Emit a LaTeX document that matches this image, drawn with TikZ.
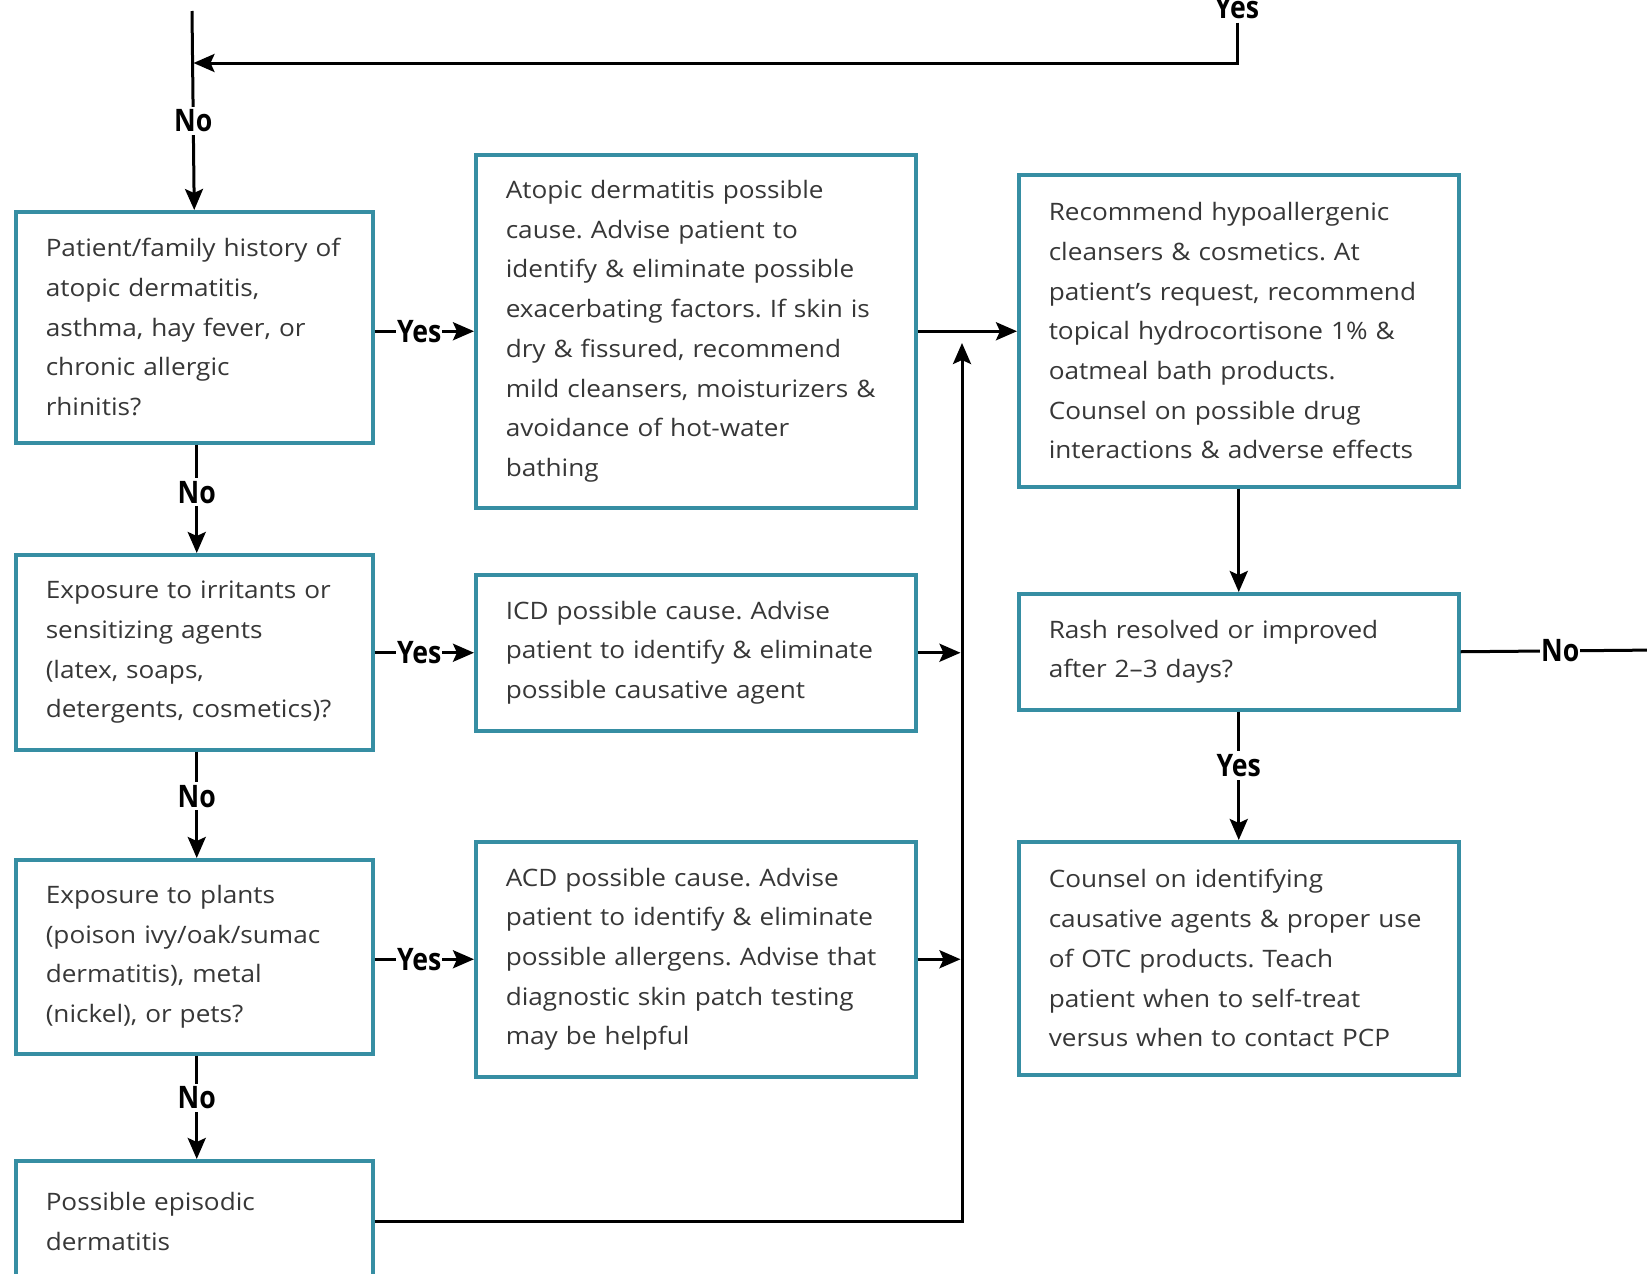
\documentclass[tikz,border=0pt]{standalone}
\usepackage{fontspec}
\setmainfont{Open Sans}[FakeStretch=1.09]
\newfontfamily\labfont[FakeStretch=0.86]{Open Sans}
\usetikzlibrary{arrows.meta}
\definecolor{boxline}{RGB}{54,142,163}
\definecolor{bodytext}{RGB}{55,55,55}
\begin{document}
\frenchspacing
\begin{tikzpicture}[x=1pt,y=-1pt,
  box/.style={draw=boxline, line width=3.5pt, fill=white, align=left, anchor=north west,
    inner xsep=30pt, inner ysep=4pt, text=bodytext, font=\fontsize{24}{39.7}\selectfont},
  wa/.style={box, text width=297pt},
  wb/.style={box, text width=380pt},
  lab/.style={font=\labfont\bfseries\fontsize{31}{31}\selectfont, fill=white, inner xsep=1pt, inner ysep=3pt, text=black},
  conn/.style={line width=3pt, draw=black},
  arr/.style={conn, -{Stealth[length=21pt,width=18pt,inset=4pt]}}]

\useasboundingbox (0,0) rectangle (1647,1274);
\clip (0,0) rectangle (1647,1274);

% column 1
\node[wa, minimum height=231pt] (hist) at (14,210)
  {Patient/family history of\\atopic dermatitis,\\asthma, hay fever, or\\chronic allergic\\rhinitis?};
\node[wa, minimum height=195pt] (irr) at (14,553)
  {Exposure to irritants or\\sensitizing agents\\(latex, soaps,\\detergents, cosmetics)?};
\node[wa, minimum height=194pt] (plant) at (14,858)
  {Exposure to plants\\(poison ivy/oak/sumac\\dermatitis), metal\\(nickel), or pets?};
\node[wa, minimum height=122pt] (epi) at (14,1159)
  {Possible episodic\\dermatitis};

% column 2
\node[wb, minimum height=353pt] (atop) at (474,153)
  {Atopic dermatitis possible\\cause. Advise patient to\\identify \& eliminate possible\\exacerbating factors. If skin is\\dry \& fissured, recommend\\mild cleansers, moisturizers \&\\avoidance of hot-water\\bathing};
\node[wb, minimum height=156pt] (icd) at (474,573)
  {ICD possible cause. Advise\\patient to identify \& eliminate\\possible causative agent};
\node[wb, minimum height=235pt] (acd) at (474,840)
  {ACD possible cause. Advise\\patient to identify \& eliminate\\possible allergens. Advise that\\diagnostic skin patch testing\\may be helpful};

% column 3
\node[wb, minimum height=312pt] (rec) at (1017,173)
  {Recommend hypoallergenic\\cleansers \& cosmetics. At\\patient’s request, recommend\\topical hydrocortisone 1\% \&\\oatmeal bath products.\\Counsel on possible drug\\interactions \& adverse effects};
\node[wb, minimum height=116pt] (rash) at (1017,592)
  {Rash resolved or improved\\after 2–3 days?};
\node[wb, minimum height=233pt] (couns) at (1017,840)
  {Counsel on identifying\\causative agents \& proper use\\of OTC products. Teach\\patient when to self-treat\\versus when to contact PCP};

% helper coordinates
\coordinate (topL) at (192,11);
\coordinate (leftjoin) at (193.5,63);
\coordinate (join) at (962,343);
\coordinate (joinL) at (960.5,343);
\coordinate (rightEnd) at (1660,650);
\node[lab, fill=none, anchor=base] (topyes) at (1237,19) {Yes};

% top loop
\draw[arr] (topyes.south) |- (leftjoin);
\draw[arr] (topL) -- node[lab, pos=0.553] {No} (hist.north);

% column 1 "No" chain
\draw[arr] ([xshift=2.5pt]hist.south) -- node[lab, pos=0.44] {No} ([xshift=2.5pt]irr.north);
\draw[arr] ([xshift=2.5pt]irr.south) -- node[lab, pos=0.42] {No} ([xshift=2.5pt]plant.north);
\draw[arr] ([xshift=2.5pt]plant.south) -- node[lab, pos=0.41] {No} ([xshift=2.5pt]epi.north);

% Yes arrows
\draw[arr] (atop.west -| hist.east) -- node[lab, pos=0.45] {Yes} (atop.west);
\draw[arr] (icd.west -| irr.east) -- node[lab, pos=0.45] {Yes} (icd.west);
\draw[arr] (acd.west -| plant.east) -- node[lab, pos=0.45] {Yes} (acd.west);

% collector
\draw[arr] (atop.east) -- (atop.east -| rec.west);
\draw[arr] (epi.east) -| (join);
\draw[arr] (icd.east) -- (icd.east -| joinL);
\draw[arr] (acd.east) -- (acd.east -| joinL);

% column 3
\draw[arr] (rec.south) -- (rash.north);
\draw[arr] (rash.south) -- node[lab, pos=0.42] {Yes} (couns.north);
\draw[conn] (rash.east) -- node[lab, pos=0.5] {No} (rightEnd);
\end{tikzpicture}
\end{document}
